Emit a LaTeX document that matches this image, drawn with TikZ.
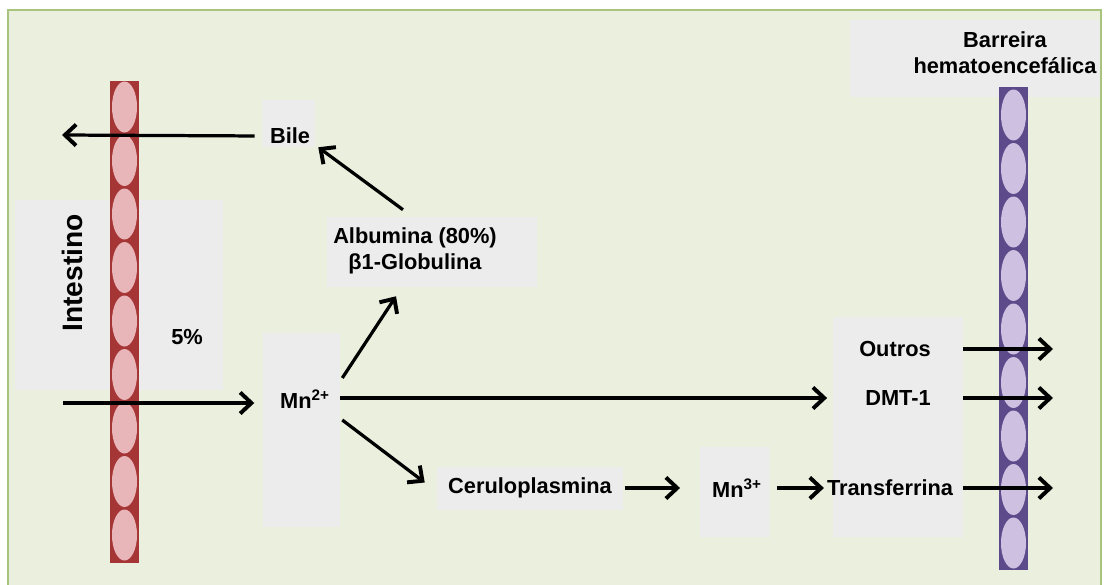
\documentclass[tikz,border=0pt]{standalone}
\usepackage{fontspec}
\setmainfont{Liberation Sans}
\usetikzlibrary{arrows.meta, fit}
\definecolor{cbg}{HTML}{EAEFDE}
\definecolor{cframe}{HTML}{A8C47C}
\definecolor{cbox}{HTML}{ECECEC}
\definecolor{cgut}{HTML}{A63636}
\definecolor{cgutcell}{HTML}{E8B5B9}
\definecolor{cbrain}{HTML}{5D4A8A}
\definecolor{cbraincell}{HTML}{CDC0E0}
\tikzset{
  greybox/.style={fill=cbox, draw=none, inner sep=0pt, fit={#1}},
  lbl/.style={font=\fontsize{15.5}{18.5}\selectfont\bfseries, inner sep=2pt, align=center},
  arrow/.style={-{Straight Barb[length=8pt, width=15pt, line width=2.8pt]}, line width=2.3pt, draw=black},
}

\begin{document}
\begin{tikzpicture}[x=0.025cm, y=-0.025cm]
  \useasboundingbox (0,0) rectangle (1106,585);
  \fill[cbg] (8,10) rectangle (1101,585);
  \draw[cframe, line width=1.5pt] (8,585) -- (8,10) -- (1101,10) -- (1101,585);
  % grey panels behind the labels
  \node[greybox={(15,200) (223,390)}] (intbox) {};
  \node[greybox={(262,100) (315,147)}] (bilebox) {};
  \node[greybox={(327,217) (537,287)}] (albbox) {};
  \node[greybox={(263,333) (340,527)}] (mnbox) {};
  \node[greybox={(437,467) (623,510)}] (cerbox) {};
  \node[greybox={(700,447) (770,537)}] (mnthreebox) {};
  \node[greybox={(833,317) (963,537)}] (carrierbox) {};
  \node[greybox={(850,20) (1100,97)}] (barrierbox) {};
  % membranes
  \fill[cgut] (110,81) rectangle (139,563);
  \foreach \i in {0,...,8} \fill[cgutcell] (124.5,{107+53.5*\i}) circle [x radius=12.5, y radius=25.5];
  \fill[cbrain] (999,87) rectangle (1028,570);
  \foreach \i in {0,...,8} \fill[cbraincell] (1013.5,{115+53.5*\i}) circle [x radius=12.5, y radius=25.5];
  % labels
  \node[lbl, font=\fontsize{20}{24}\selectfont\bfseries, rotate=90] (intestino) at (72,273) {Intestino};
  \node[lbl] (pct) at (187,337) {5\%};
  \node[lbl] (bile) at (290,136) {Bile};
  \node[lbl] (alb) at (415,251) {Albumina (80\%)\\β1-Globulina};
  \node[lbl] (mn) at (305,399) {Mn\textsuperscript{2+}};
  \node[lbl] (cer) at (530,488) {Ceruloplasmina};
  \node[lbl] (mnthree) at (737,488) {Mn\textsuperscript{3+}};
  \node[lbl] (outros) at (895,349) {Outros};
  \node[lbl] (dmt) at (898,398) {DMT-1};
  \node[lbl] (transf) at (890,488) {Transferrina};
  \node[lbl] (barreira) at (1005,53) {Barreira\\hematoencefálica};
  % arrows
  \coordinate (gutexit) at (62,135);
  \coordinate (gutentry) at (63,403);
  \coordinate (brainexit) at (1053,0);
  \draw[arrow, shorten <=5pt] (bilebox.west |- bile) -- (gutexit);
  \draw[arrow] ([shift={(-29,-7)}]albbox.north) -- ([shift={(3,0)}]bilebox.south east);
  \draw[arrow, shorten >=6pt] (gutentry) -- (mnbox.west |- gutentry);
  \draw[arrow] ([shift={(2,-52)}]mnbox.east) -- ([shift={(-36,9)}]albbox.south);
  \draw[arrow, shorten >=4pt] (mnbox.east |- dmt) -- (carrierbox.west |- dmt);
  \draw[arrow] ([shift={(2,-10)}]mnbox.east) -- ([shift={(-12,-6)}]cerbox.west);
  \draw[arrow, shorten <=1pt, shorten >=14pt] (cerbox.east |- cer) -- (mnthreebox.west |- cer);
  \draw[arrow, shorten <=5pt] (mnthreebox.east |- mnthree) -- (transf.west);
  \foreach \n in {outros,dmt,transf} \draw[arrow] (carrierbox.east |- \n) -- (brainexit |- \n);
\end{tikzpicture}
\end{document}
